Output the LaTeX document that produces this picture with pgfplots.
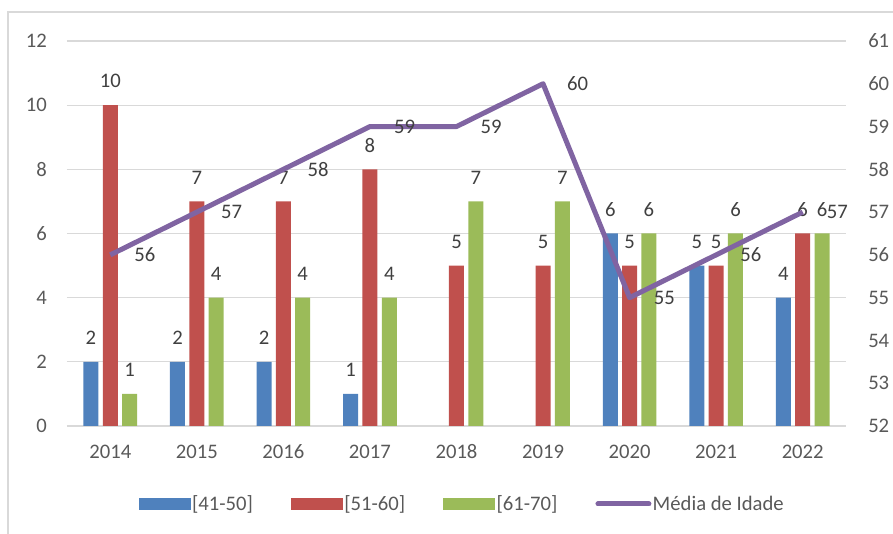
\documentclass[border=0pt]{standalone}
\usepackage{pgfplots}
\pgfplotsset{compat=1.18}
\usepackage{fontspec}
\setmainfont{Carlito}
\definecolor{cblue}{HTML}{4F81BD}
\definecolor{cred}{HTML}{C0504D}
\definecolor{cgreen}{HTML}{9BBB59}
\definecolor{cpurple}{HTML}{8064A2}
\definecolor{gridgray}{HTML}{D9D9D9}
\definecolor{tickgray}{HTML}{595959}
\definecolor{labelgray}{HTML}{404040}
\begin{document}
\begin{tikzpicture}
\useasboundingbox (0,0) rectangle (669.75pt,400.5pt);
\draw[gridgray, line width=0.9pt] (6pt,-2pt) -- (6pt,391.5pt) -- (672pt,391.5pt);
\begin{axis}[
  at={(50.25pt,81pt)}, anchor=south west, scale only axis,
  width=584.25pt, height=288.75pt,
  xmin=-0.5, xmax=8.5, ymin=0, ymax=12,
  xtick={0,1,2,3,4,5,6,7,8},
  xticklabels={2014,2015,2016,2017,2018,2019,2020,2021,2022},
  ytick={0,2,4,6,8,10,12},
  ymajorgrids, grid style={draw=gridgray, line width=0.8pt},
  axis line style={draw=none}, major tick length=0pt,
  /pgf/number format/assume math mode=true,
  tick label style={font=\fontsize{15.5}{18}\selectfont, text=tickgray},
  yticklabel style={anchor=east, inner sep=0pt, xshift=-15pt},
  xticklabel style={anchor=north, inner sep=0pt, yshift=-14.25pt, text height=10pt, text depth=0pt},
  nodes near coords,
  every node near coord/.append style={anchor=center, yshift=18pt, inner sep=0pt,
    font=\fontsize{15.5}{18}\selectfont, text=labelgray},
  legend columns=4,
  legend style={at={(0.507,-0.2026)}, anchor=center, draw=none, fill=none,
    font=\fontsize{15.5}{18}\selectfont, text=tickgray,
    inner sep=0pt, outer sep=0pt,
    nodes={inner sep=1pt},
    /tikz/every even column/.append style={column sep=27.5pt}},
]
\addplot[ybar, bar width=11.25pt, bar shift=-14.5pt, fill=cblue, draw=none,
  every node near coord/.append style={xshift=-14.5pt},
  legend image code/.code={\fill[cblue] (0pt,-4.5pt) rectangle (39pt,4.5pt);}]
  coordinates {(0,2) (1,2) (2,2) (3,1) (6,6) (7,5) (8,4)};
\addlegendentry{[41-50]}
\addplot[ybar, bar width=11.25pt, bar shift=0pt, fill=cred, draw=none,
  legend image code/.code={\fill[cred] (0pt,-4.5pt) rectangle (39pt,4.5pt);}]
  coordinates {(0,10) (1,7) (2,7) (3,8) (4,5) (5,5) (6,5) (7,5) (8,6)};
\addlegendentry{[51-60]}
\addplot[ybar, bar width=11.25pt, bar shift=14.5pt, fill=cgreen, draw=none,
  every node near coord/.append style={xshift=14.5pt},
  legend image code/.code={\fill[cgreen] (0pt,-4.5pt) rectangle (39pt,4.5pt);}]
  coordinates {(0,1) (1,4) (2,4) (3,4) (4,7) (5,7) (6,6) (7,6) (8,6)};
\addlegendentry{[61-70]}
\addlegendimage{legend image code/.code={\draw[cpurple, line width=3.75pt, line cap=round] (1.9pt,0pt) -- (40.1pt,0pt);}}
\addlegendentry{Média de Idade}
\end{axis}
\begin{axis}[
  at={(50.25pt,81pt)}, anchor=south west, scale only axis,
  width=584.25pt, height=288.75pt,
  xmin=-0.5, xmax=8.5, ymin=52, ymax=61,
  ytick={52,53,54,55,56,57,58,59,60,61},
  axis x line=none, axis y line*=right,
  axis line style={draw=none}, major tick length=0pt,
  /pgf/number format/assume math mode=true,
  tick label style={font=\fontsize{15.5}{18}\selectfont, text=tickgray},
  yticklabel style={anchor=west, inner sep=0pt, xshift=16.5pt},
]
\addplot[cpurple, line width=3.75pt, line join=round, mark=none,
  nodes near coords,
  every node near coord/.append style={anchor=center, xshift=26pt, inner sep=0pt,
    font=\fontsize{15.5}{18}\selectfont, text=labelgray}]
  coordinates {(0,56) (1,57) (2,58) (3,59) (4,59) (5,60) (6,55) (7,56) (8,57)};
\end{axis}
\end{tikzpicture}
\end{document}
